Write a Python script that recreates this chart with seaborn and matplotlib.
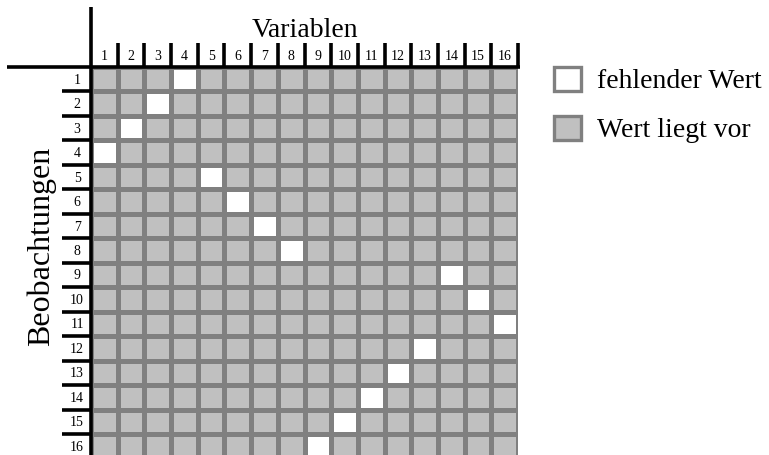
import numpy as np
import pandas as pd
import matplotlib
matplotlib.use("Agg")
import matplotlib.pyplot as plt
import matplotlib.transforms as mtransforms
from matplotlib.patches import Rectangle
from matplotlib.colors import ListedColormap
import seaborn as sns

# ---- data ----
variables = [str(i) for i in range(1, 17)]          # column labels
observations = [str(i) for i in range(1, 17)]       # row labels
missing_rows = list(range(1, 17))                   # observation with a missing value
missing_cols = [4, 3, 2, 1, 5, 6, 7, 8, 14, 15, 16, 13, 12, 11, 10, 9]  # its variable
legend_labels = ["fehlender Wert", "Wert liegt vor"]
x_title = "Variablen"
y_title = "Beobachtungen"

present = np.ones((len(observations), len(variables)))
for r, c in zip(missing_rows, missing_cols):
    present[r - 1, c - 1] = 0
df = pd.DataFrame(present, index=observations, columns=variables)

plt.rcParams['font.family'] = ['Liberation Serif', 'DejaVu Serif']

W, H = 769, 456
fig = plt.figure(figsize=(W / 100, H / 100), dpi=100)

def fx(x):
    return x / W

def fy(y):
    return 1 - y / H

left, right, top, bottom = 91, 518, 68, 459.5
ax = fig.add_axes([fx(left), fy(bottom), (right - left) / W, (bottom - top) / H])

fill = "#c0c0c0"
grid = "#808080"
sns.heatmap(df, ax=ax, cmap=ListedColormap(["white", fill]), vmin=0, vmax=1,
            cbar=False, linewidths=2.4, linecolor=grid,
            xticklabels=variables, yticklabels=observations)

ax.xaxis.tick_top()
ax.tick_params(axis='both', length=0, labelsize=10)
ax.tick_params(axis='x', pad=8.6, rotation=0)
ax.tick_params(axis='y', pad=10, rotation=0)
for t in ax.get_xticklabels():
    t.set_va('center')
for t in ax.get_yticklabels():
    t.set_ha('center')
ax.set_xlabel("")
ax.set_ylabel("")

ax_h = bottom - top
ax_w = right - left
lw_black = 2.6

# left spine extended upward
ax.plot([0, 0], [0, 1 + 60 / ax_h], transform=ax.transAxes, color='black',
        lw=lw_black, clip_on=False, solid_capstyle='butt')
# header horizontal line
ax.plot([(7 - left) / ax_w, 1 + 1.5 / ax_w], [1, 1], transform=ax.transAxes,
        color='black', lw=lw_black, clip_on=False, solid_capstyle='butt')
# column header separators
tr_x = mtransforms.blended_transform_factory(ax.transData, ax.transAxes)
for k in range(1, len(variables) + 1):
    ax.plot([k, k], [1, 1 + 24 / ax_h], transform=tr_x, color='black',
            lw=lw_black, clip_on=False, solid_capstyle='butt')
# row header separators
tr_y = mtransforms.blended_transform_factory(ax.transAxes, ax.transData)
for k in range(1, len(observations) + 1):
    ax.plot([(62 - left) / ax_w, 0], [k, k], transform=tr_y, color='black',
            lw=lw_black, clip_on=False, solid_capstyle='butt')

# axis titles
ax.text(0.5, 1 + (68 - 37) / ax_h, x_title, transform=ax.transAxes,
        ha='center', va='baseline', fontsize=20)
fig.text(fx(41), fy(246), y_title, rotation=90, ha='center', va='center',
         fontsize=23)

# legend
for i, (lab, col) in enumerate(zip(legend_labels, ["white", fill])):
    ytop = 68 + i * 49
    fig.patches.append(Rectangle((fx(554), fy(ytop + 24)), 27 / W, 24 / H,
                                 transform=fig.transFigure, facecolor=col,
                                 edgecolor=grid, lw=2.4))
    fig.text(fx(597), fy(ytop + 20), lab, ha='left', va='baseline', fontsize=20)

fig.savefig("out.png", dpi=100)
